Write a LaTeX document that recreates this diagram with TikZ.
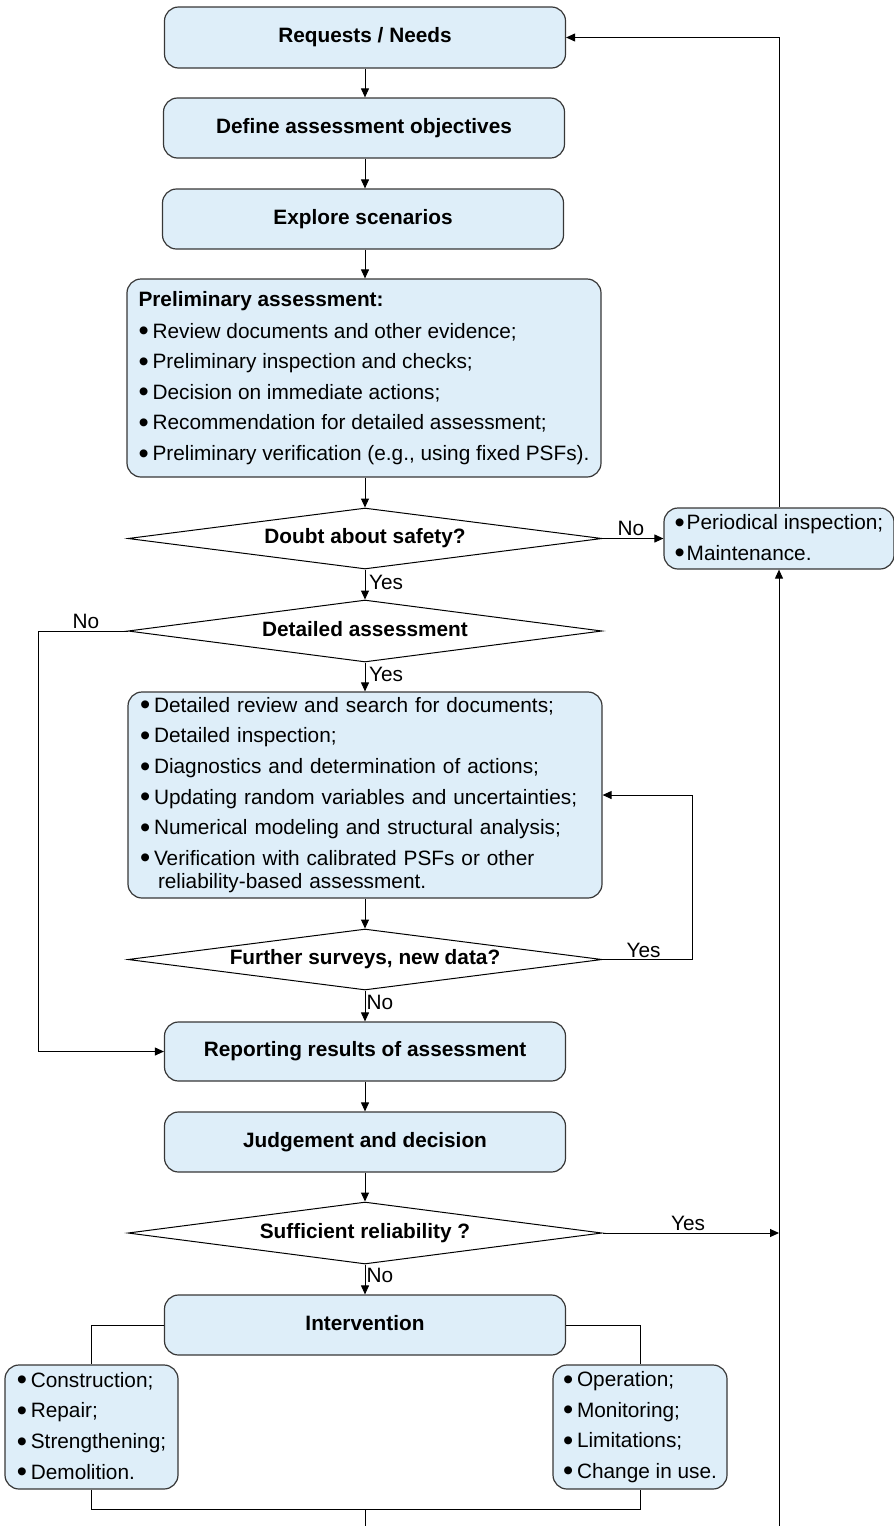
\documentclass[tikz,border=0pt]{standalone}
\usepackage{fontspec}
\setmainfont{Liberation Sans}
\usetikzlibrary{shapes.geometric,arrows.meta}
\definecolor{boxfill}{RGB}{222,238,249}
\definecolor{boxline}{RGB}{55,55,55}
\newcommand{\bigbul}{\raisebox{-1.3pt}{\scalebox{1.4}{\textbullet}}}
\newcommand{\bul}{\makebox[7pt][l]{\bigbul}}
\newcommand{\bulm}{\makebox[6pt][l]{\bigbul}}
\begin{document}
\begin{tikzpicture}[x=0.5pt,y=-0.5pt,
  every node/.style={font=\fontsize{10.4pt}{15.3pt}\selectfont},
  box/.style={draw=boxline, fill=boxfill, line width=0.6pt, rounded corners=7pt, inner sep=0pt},
  titlebox/.style={box, minimum width=200.5pt, minimum height=30pt, text height=7.6pt, text depth=2.2pt,
    font=\fontsize{10.4pt}{15.3pt}\selectfont\bfseries},
  listbox/.style={box, align=left},
  dec/.style={diamond, draw=black, line width=0.5pt, inner sep=0pt, shape aspect=7.7,
    minimum width=237pt, minimum height=31pt, text height=7.6pt, text depth=2.2pt,
    font=\fontsize{10.4pt}{15.3pt}\selectfont\bfseries},
  conn/.style={draw=black, line width=0.5pt},
  arr/.style={conn, -{Triangle[length=4.5pt,width=4pt]}},
  lab/.style={inner sep=0pt, text height=7.6pt, text depth=2.2pt}]
\useasboundingbox (0,0) rectangle (894,1526);

% main column
\node[titlebox, minimum height=30.5pt] (req) at (365,37.5) {Requests / Needs};
\node[titlebox] (def) at (364,128) {Define assessment objectives};
\node[titlebox] (exp) at (363,219) {Explore scenarios};
\node[listbox, minimum width=237pt, minimum height=99pt] (prelim) at (364,378)
  {\textbf{Preliminary assessment:}\\[0.6pt]
   \bul Review documents and other evidence;\\
   \bul Preliminary inspection and checks;\\
   \bul Decision on immediate actions;\\
   \bul Recommendation for detailed assessment;\\
   \bul Preliminary verification (e.g., using fixed PSFs).};
\node[dec, minimum height=30.5pt] (d1) at (365,538.5) {Doubt about safety?};
\node[dec] (d2) at (365,631) {Detailed assessment};
\node[listbox, text width=225pt, minimum width=237pt, minimum height=103pt] (det) at (365,795)
  {\bul Detailed review and search for documents;\\
   \bul Detailed inspection;\\
   \bul Diagnostics and determination of actions;\\
   \bul Updating random variables and uncertainties;\\
   \bul Numerical modeling and structural analysis;\\
   \bul Verification with calibrated PSFs or other\\[-3.8pt]
   \hspace*{9pt}reliability-based assessment.};
\node[dec, minimum height=30.5pt] (d3) at (365,959.5) {Further surveys, new data?};
\node[titlebox, minimum height=29.5pt] (rep) at (365,1051.5) {Reporting results of assessment};
\node[titlebox] (jud) at (365,1142) {Judgement and decision};
\node[dec] (d4) at (365,1233) {Sufficient reliability ?};
\node[titlebox] (int) at (365,1325) {Intervention};

% side boxes
\node[listbox, minimum width=115pt, minimum height=30.5pt] (maint) at (779,538.5)
  {\bulm Periodical inspection;\\ \bulm Maintenance.};
\node[listbox, minimum width=86.5pt, minimum height=62pt] (lsub) at (91.5,1427)
  {\bul Construction;\\ \bul Repair;\\ \bul Strengthening;\\ \bul Demolition.};
\node[listbox, minimum width=87pt, minimum height=62pt] (rsub) at (640,1427)
  {\bul Operation;\\ \bul Monitoring;\\ \bul Limitations;\\ \bul Change in use.};

% free ends
\coordinate (rbot) at (779,1526);
\coordinate (mrg) at (365,1509);
\coordinate (mrgend) at (365,1526);

% vertical flow
\draw[arr] (req.south) -- (req.south |- def.north);
\draw[arr] (req.south |- def.south) -- (req.south |- exp.north);
\draw[arr] (req.south |- exp.south) -- (req.south |- prelim.north);
\draw[arr] (req.south |- prelim.south) -- (d1.north);
\draw[arr] (d1.south) -- (d2.north);
\draw[arr] (d2.south) -- (det.north);
\draw[arr] (det.south) -- (d3.north);
\draw[arr] (d3.south) -- (rep.north);
\draw[arr] (rep.south) -- (jud.north);
\draw[arr] (jud.south) -- (d4.north);
\draw[arr] (d4.south) -- (int.north);

% branches
\draw[arr] (d1.east) -- (maint.west);
\draw[arr] (d2.west) -- ++(-89,0) |- (rep.west);
\draw[arr] (d3.east) -- ++(90,0) |- (det.east);
\draw[arr] (d4.east) -- (d4.east -| maint.south);
\draw[arr] (rbot) -- (maint.south);
\draw[arr] (maint.north) |- (req.east);

% intervention
\draw[conn] (int.west) -| (lsub.north);
\draw[conn] (int.east) -| (rsub.north);
\draw[conn] (lsub.south) -- (lsub.south |- mrg) -| (rsub.south);
\draw[conn] (mrg) -- (mrgend);

% labels
\node[lab] (l1) at (631,530) {No};
\node[lab] (l2) at (386,584) {Yes};
\node[lab] (l3) at (86,623) {No};
\node[lab] (l4) at (386,676) {Yes};
\node[lab] (l5) at (643.5,952) {Yes};
\node[lab] (l6) at (380,1004) {No};
\node[lab] (l7) at (688,1225) {Yes};
\node[lab] (l8) at (380,1277) {No};
\end{tikzpicture}
\end{document}
